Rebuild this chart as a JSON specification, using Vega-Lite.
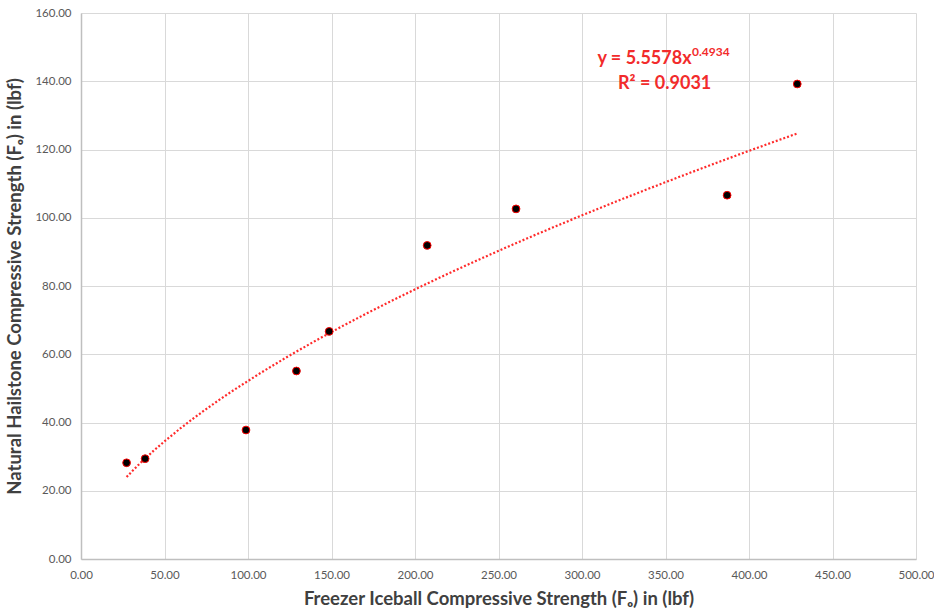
{
  "$schema": "https://vega.github.io/schema/vega-lite/v6.json",
  "width": 835,
  "height": 546,
  "autosize": {"type": "none"},
  "padding": {"left": 81, "top": 13, "right": 18, "bottom": 52},
  "background": "#ffffff",
  "config": {
    "view": {"stroke": null},
    "font": "Lato",
    "axis": {
      "gridColor": "#d9d9d9",
      "gridWidth": 1,
      "domainColor": "#bfbfbf",
      "domainWidth": 1.5,
      "ticks": false,
      "labelFlush": false,
      "labelFont": "Lato",
      "labelFontSize": 11.5,
      "labelColor": "#595959",
      "labelPadding": 10,
      "titleFont": "Lato",
      "titleFontSize": 18.5,
      "titleFontWeight": "bold",
      "titleColor": "#404040"
    }
  },
  "datasets": {
    "points": [
      {"x": 27.3, "y": 28.2},
      {"x": 38.4, "y": 29.4},
      {"x": 98.8, "y": 37.8},
      {"x": 129.0, "y": 55.1},
      {"x": 148.6, "y": 66.7},
      {"x": 207.3, "y": 91.9},
      {"x": 260.5, "y": 102.6},
      {"x": 386.9, "y": 106.6},
      {"x": 428.9, "y": 139.2}
    ],
    "eqMain": [
      {"x": 365.6, "y": 145.2, "text": "y = 5.5578x"}
    ],
    "eqExp": [
      {"x": 365.9, "y": 147.3, "text": "0.4934"}
    ],
    "r2": [
      {"x": 349.5, "y": 137.8, "text": "R² = 0.9031"}
    ]
  },
  "encoding": {
    "x": {
      "field": "x",
      "type": "quantitative",
      "scale": {"domain": [0, 500], "nice": false, "zero": true},
      "axis": {
        "values": [0, 50, 100, 150, 200, 250, 300, 350, 400, 450, 500],
        "format": ".2f",
        "title": "Freezer Iceball Compressive Strength (Fₒ) in (lbf)",
        "titlePadding": 9
      }
    },
    "y": {
      "field": "y",
      "type": "quantitative",
      "scale": {"domain": [0, 160], "nice": false, "zero": true},
      "axis": {
        "values": [0, 20, 40, 60, 80, 100, 120, 140, 160],
        "format": ".2f",
        "title": "Natural Hailstone Compressive Strength (Fₒ) in  (lbf)",
        "titlePadding": 10
      }
    }
  },
  "layer": [
    {
      "data": {"name": "points"},
      "transform": [{"regression": "y", "on": "x", "method": "pow"}],
      "mark": {"type": "line", "color": "#ff2b2b", "strokeDash": [2, 2], "strokeWidth": 2.2}
    },
    {
      "data": {"name": "points"},
      "mark": {"type": "circle", "fill": "#000000", "stroke": "#ff0000", "strokeWidth": 1, "size": 60, "opacity": 1}
    },
    {
      "data": {"name": "eqMain"},
      "mark": {"type": "text", "align": "right", "baseline": "alphabetic", "font": "Lato", "fontSize": 18, "fontWeight": "bold", "color": "#f22b2b"},
      "encoding": {"text": {"field": "text"}}
    },
    {
      "data": {"name": "eqExp"},
      "mark": {"type": "text", "align": "left", "baseline": "alphabetic", "font": "Lato", "fontSize": 12, "fontWeight": "bold", "color": "#f22b2b"},
      "encoding": {"text": {"field": "text"}}
    },
    {
      "data": {"name": "r2"},
      "mark": {"type": "text", "align": "center", "baseline": "alphabetic", "font": "Lato", "fontSize": 18, "fontWeight": "bold", "color": "#f22b2b"},
      "encoding": {"text": {"field": "text"}}
    }
  ]
}
